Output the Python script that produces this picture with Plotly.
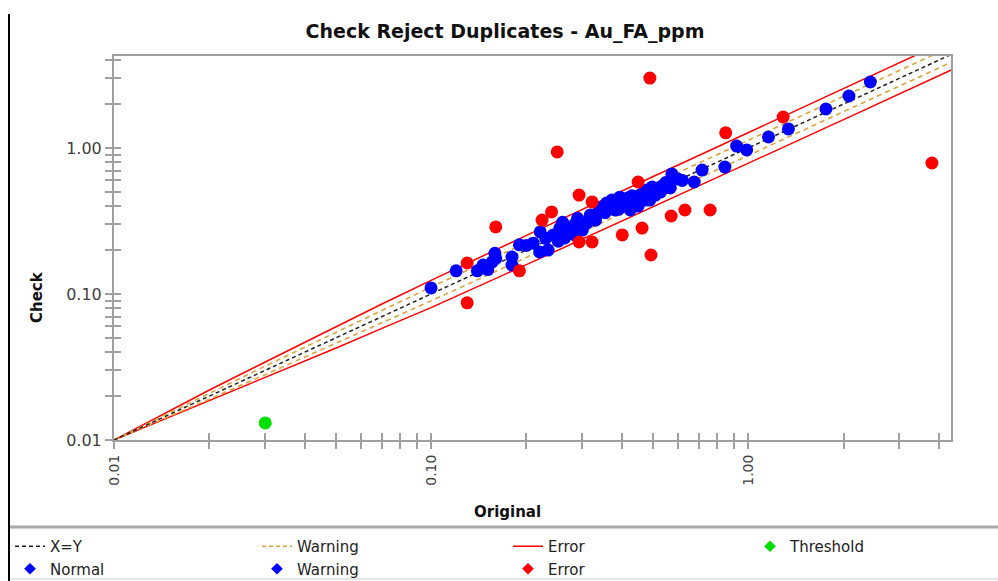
import plotly.graph_objects as go

# ---- data -------------------------------------------------------------
# duplicate pairs inside the control limits
normal_orig = [0.100, 0.120, 0.140, 0.146, 0.151, 0.156, 0.159, 0.160, 0.180, 0.180,
               0.190, 0.200, 0.210, 0.220, 0.234, 0.221, 0.243, 0.255, 0.260, 0.268,
               0.264, 0.252, 0.284, 0.284, 0.300, 0.310, 0.318, 0.334, 0.340, 0.354,
               0.358, 0.372, 0.380, 0.394, 0.400, 0.418, 0.425, 0.440, 0.456, 0.473,
               0.480, 0.498, 0.490, 0.510, 0.520, 0.536, 0.568, 0.575, 0.600, 0.620,
               0.676, 0.716, 0.845, 0.920, 0.990, 1.160, 1.340, 1.760, 2.080, 2.430,
               0.230, 0.270, 0.290, 0.330, 0.360, 0.390, 0.410, 0.430, 0.450, 0.470,
               0.500, 0.530, 0.550]
normal_check = [0.110, 0.144, 0.144, 0.158, 0.147, 0.166, 0.190, 0.175, 0.179, 0.158,
                0.217, 0.215, 0.223, 0.194, 0.200, 0.266, 0.254, 0.283, 0.310, 0.262,
                0.242, 0.230, 0.300, 0.254, 0.274, 0.306, 0.347, 0.353, 0.388, 0.360,
                0.420, 0.440, 0.376, 0.460, 0.407, 0.455, 0.376, 0.420, 0.476, 0.440,
                0.515, 0.540, 0.440, 0.476, 0.532, 0.550, 0.532, 0.664, 0.614, 0.600,
                0.585, 0.706, 0.740, 1.030, 0.970, 1.190, 1.350, 1.850, 2.270, 2.830,
                0.240, 0.280, 0.330, 0.320, 0.400, 0.380, 0.430, 0.470, 0.400, 0.500,
                0.500, 0.500, 0.580]

# duplicate pairs outside the error limits
error_orig = [0.49, 3.80, 0.25, 0.85, 1.29, 0.160, 0.130, 0.130, 0.190, 0.224, 0.240,
              0.293, 0.322, 0.450, 0.293, 0.322, 0.401, 0.463, 0.494, 0.572, 0.632, 0.759]
error_check = [3.01, 0.789, 0.94, 1.27, 1.63, 0.288, 0.163, 0.087, 0.144, 0.321, 0.365,
               0.476, 0.427, 0.585, 0.227, 0.227, 0.254, 0.283, 0.185, 0.342, 0.376, 0.376]

# pairs below the detection threshold
thresh_orig = [0.030]
thresh_check = [0.0131]

# control lines
xy_line = [0.01, 4.4]
limit_orig = [0.01, 0.015, 0.02, 0.03, 0.05, 0.07, 0.1, 0.2, 0.5, 1.0, 2.0, 4.4]
error_hi = [0.01, 0.0159, 0.022, 0.0342, 0.0595, 0.0854, 0.124, 0.252, 0.635, 1.275, 2.56, 5.63]
error_lo = [0.01, 0.01437, 0.01866, 0.0268, 0.0425, 0.0582, 0.0806, 0.159, 0.394, 0.784, 1.5625, 3.44]
warn_hi = [0.01, 0.01545, 0.021, 0.0321, 0.0545, 0.0774, 0.1115, 0.2246, 0.5635, 1.13, 2.262, 4.98]
warn_lo = [0.01, 0.01456, 0.01905, 0.02804, 0.04587, 0.06335, 0.08969, 0.1781, 0.4437, 0.885, 1.768, 3.89]

# axis ticks
tick_vals = [0.01, 0.02, 0.03, 0.04, 0.05, 0.06, 0.07, 0.08, 0.09,
             0.1, 0.2, 0.3, 0.4, 0.5, 0.6, 0.7, 0.8, 0.9,
             1.0, 2.0, 3.0, 4.0]
tick_text = ["0.01", "", "", "", "", "", "", "", "",
             "0.10", "", "", "", "", "", "", "", "",
             "1.00", "", "", ""]

# ---- styling ----------------------------------------------------------
W, H = 998, 581
ML, MR, MT, MB = 114, 47, 56, 141
PW, PH = W - ML - MR, H - MT - MB
AXIS_GREY = "#a0a0a0"
BLUE, RED, GREEN = "#0000ff", "#ff0000", "#00e000"
ORANGE = "#d9a43c"
FONT = "DejaVu Sans"
X_RANGE = [-2, 0.640]
Y_RANGE = [-2, 0.630]


def px_x(px):
    """pixel column -> paper x"""
    return (px - ML) / PW


def px_y(py):
    """pixel row -> paper y"""
    return (H - MB - py) / PH


fig = go.Figure()

line_kw = dict(mode="lines", hoverinfo="skip", showlegend=False)
fig.add_trace(go.Scatter(x=limit_orig, y=error_hi, line=dict(color=RED, width=1.5), **line_kw))
fig.add_trace(go.Scatter(x=limit_orig, y=error_lo, line=dict(color=RED, width=1.5), **line_kw))
fig.add_trace(go.Scatter(x=limit_orig, y=warn_hi, line=dict(color=ORANGE, width=1.6, dash="5px,4px"), **line_kw))
fig.add_trace(go.Scatter(x=limit_orig, y=warn_lo, line=dict(color=ORANGE, width=1.6, dash="5px,4px"), **line_kw))
fig.add_trace(go.Scatter(x=xy_line, y=xy_line, line=dict(color="#222222", width=1.5, dash="4px,3px"), **line_kw))

pt_kw = dict(mode="markers", showlegend=False)
fig.add_trace(go.Scatter(x=normal_orig, y=normal_check, marker=dict(color=BLUE, size=13), **pt_kw))
fig.add_trace(go.Scatter(x=error_orig, y=error_check, marker=dict(color=RED, size=13), **pt_kw))
fig.add_trace(go.Scatter(x=thresh_orig, y=thresh_check, marker=dict(color=GREEN, size=13), **pt_kw))


# legend entries, laid out in four columns
def legend_line(name, color, dash, legend):
    fig.add_trace(go.Scatter(x=[None], y=[None], mode="lines", name=name, legend=legend,
                             line=dict(color=color, width=1.5, dash=dash)))


def legend_marker(name, color, legend):
    fig.add_trace(go.Scatter(x=[None], y=[None], mode="markers", name=name, legend=legend,
                             marker=dict(color=color, size=9, symbol="diamond")))


legend_line("X=Y", "#222222", "4px,3px", "legend")
legend_marker("Normal", BLUE, "legend")
legend_line("Warning", ORANGE, "4px,3px", "legend2")
legend_marker("Warning", BLUE, "legend2")
legend_line("Error", RED, "solid", "legend3")
legend_marker("Error", RED, "legend3")
legend_marker("Threshold", GREEN, "legend4")

# overlay axes carry the inner half of each tick
fig.add_trace(go.Scatter(x=[None], y=[None], xaxis="x2", yaxis="y2", showlegend=False, hoverinfo="skip"))

leg_common = dict(orientation="v", xref="container", yref="container", xanchor="left",
                  yanchor="top", y=1 - 530 / H, bgcolor="rgba(0,0,0,0)",
                  font=dict(family=FONT, size=15, color="#222222"), tracegroupgap=0)

axis_common = dict(type="log", showgrid=False, zeroline=False, tickmode="array",
                   tickvals=tick_vals, ticktext=tick_text, ticklen=7, tickwidth=1.8,
                   tickcolor=AXIS_GREY)

fig.update_layout(
    width=W, height=H,
    margin=dict(l=ML, r=MR, t=MT, b=MB, autoexpand=False),
    paper_bgcolor="white", plot_bgcolor="white",
    title=dict(text="Check Reject Duplicates - Au_FA_ppm", xref="container", x=505 / W,
               xanchor="center", yref="container", y=1 - 31 / H, yanchor="middle",
               font=dict(family=FONT, size=19, color="#111111", weight="bold")),
    xaxis=dict(range=X_RANGE, ticks="outside", showline=True, linecolor=AXIS_GREY,
               linewidth=2, mirror=True, tickangle=-90, automargin=False,
               tickfont=dict(family=FONT, size=14, color="#404040"), **axis_common),
    yaxis=dict(range=Y_RANGE, ticks="outside", showline=True, linecolor=AXIS_GREY,
               linewidth=2, mirror=True, automargin=False,
               tickfont=dict(family=FONT, size=16, color="#404040"), **axis_common),
    xaxis2=dict(range=X_RANGE, overlaying="x", anchor="y2", ticks="inside", showline=False,
                showticklabels=False, **axis_common),
    yaxis2=dict(range=Y_RANGE, overlaying="y", anchor="x2", ticks="inside", showline=False,
                showticklabels=False, **axis_common),
    legend=dict(x=10 / W, **leg_common),
    legend2=dict(x=257 / W, **leg_common),
    legend3=dict(x=508 / W, **leg_common),
    legend4=dict(x=750 / W, **leg_common),
    annotations=[
        dict(text="Original", xref="paper", yref="paper", x=px_x(507), y=px_y(512),
             showarrow=False, xanchor="center", yanchor="middle",
             font=dict(family=FONT, size=15, color="#111111", weight="bold")),
        dict(text="Check", xref="paper", yref="paper", x=px_x(37), y=px_y(297),
             showarrow=False, textangle=-90, xanchor="center", yanchor="middle",
             font=dict(family=FONT, size=15, color="#111111", weight="bold")),
    ],
    shapes=[
        # window frame around the chart
        dict(type="line", xref="paper", yref="paper", x0=px_x(9), x1=px_x(9),
             y0=px_y(14), y1=px_y(585), line=dict(color="black", width=2)),
        dict(type="line", xref="paper", yref="paper", x0=px_x(10), x1=px_x(1000),
             y0=px_y(527), y1=px_y(527), line=dict(color="#a8a8a8", width=3)),
        dict(type="line", xref="paper", yref="paper", x0=px_x(10), x1=px_x(1000),
             y0=px_y(579), y1=px_y(579), line=dict(color="#dddddd", width=1.5)),
    ],
)

fig.write_html("out.html")
